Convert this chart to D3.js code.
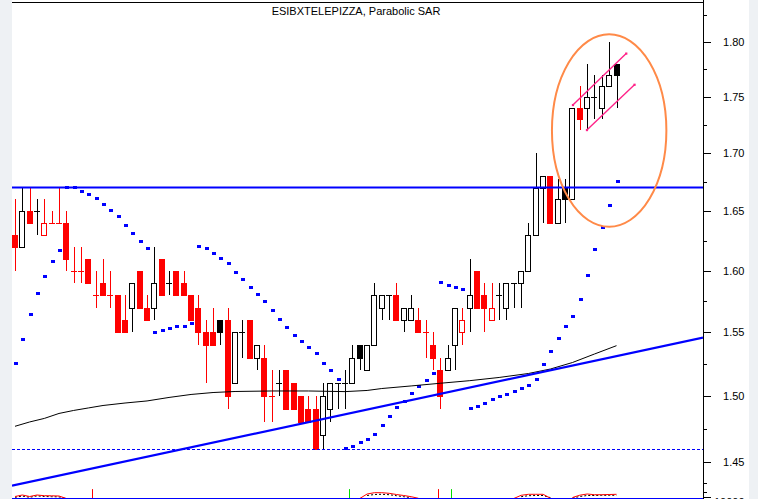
<!DOCTYPE html>
<html><head><meta charset="utf-8">
<script src="https://cdn.jsdelivr.net/npm/d3@7/dist/d3.min.js"></script>
<style>
html,body{margin:0;padding:0;background:#fff;overflow:hidden;}
svg{display:block;}
text{font-family:"Liberation Sans",Arial,sans-serif;}
</style></head><body>
<svg id="chart" width="758" height="499"></svg>
<script>
// ---------- DATA ----------
const title = "ESIBXTELEPIZZA, Parabolic SAR";
const opens  = [1.63,1.62,1.65,1.65,1.63,1.64,1.64,1.64,1.60,1.60,1.61,1.58,1.59,1.58,1.58,1.56,1.57,1.60,1.57,1.57,
                1.61,1.59,1.60,1.59,1.58,1.57,1.55,1.55,1.56,1.56,1.51,1.55,1.56,1.53,1.53,1.50,1.51,1.52,1.51,1.50,
                1.49,1.49,1.47,1.49,1.51,1.51,1.51,1.54,1.52,1.54,1.57,1.58,1.58,1.56,1.56,1.56,1.55,1.54,1.52,1.52,
                1.54,1.55,1.57,1.60,1.58,1.56,1.58,1.57,1.59,1.59,1.60,1.63,1.67,1.68,1.64,1.67,1.66,1.74,1.74,1.75,
                1.74,1.76,1.78];
const highs  = [1.66,1.67,1.67,1.66,1.66,1.65,1.67,1.65,1.62,1.62,1.61,1.60,1.61,1.60,1.58,1.58,1.59,1.60,1.58,1.62,
                1.61,1.60,1.60,1.60,1.58,1.58,1.56,1.57,1.56,1.57,1.55,1.56,1.56,1.54,1.54,1.52,1.52,1.52,1.51,1.50,
                1.50,1.50,1.51,1.51,1.51,1.52,1.54,1.54,1.54,1.59,1.58,1.58,1.59,1.57,1.58,1.57,1.56,1.55,1.53,1.54,
                1.57,1.57,1.61,1.60,1.59,1.59,1.59,1.59,1.59,1.60,1.64,1.70,1.68,1.68,1.677,1.677,1.74,1.76,1.78,1.77,
                1.77,1.80,1.78];
const lows   = [1.60,1.62,1.64,1.63,1.63,1.64,1.64,1.60,1.59,1.59,1.59,1.57,1.58,1.57,1.55,1.55,1.55,1.57,1.56,1.56,
                1.58,1.58,1.58,1.58,1.56,1.54,1.51,1.54,1.54,1.49,1.51,1.53,1.53,1.52,1.48,1.48,1.50,1.49,1.49,1.48,
                1.48,1.46,1.46,1.48,1.49,1.49,1.51,1.52,1.52,1.54,1.56,1.56,1.56,1.55,1.56,1.55,1.53,1.52,1.49,1.52,
                1.52,1.54,1.55,1.57,1.55,1.56,1.56,1.56,1.57,1.57,1.60,1.63,1.64,1.64,1.64,1.64,1.66,1.72,1.72,1.73,
                1.73,1.76,1.74];
const closes = [1.62,1.65,1.64,1.65,1.64,1.64,1.64,1.61,1.60,1.60,1.59,1.58,1.58,1.58,1.55,1.55,1.59,1.57,1.56,1.59,
                1.58,1.59,1.58,1.58,1.56,1.55,1.54,1.54,1.55,1.50,1.55,1.55,1.53,1.54,1.50,1.50,1.51,1.49,1.49,1.48,
                1.48,1.46,1.50,1.51,1.51,1.51,1.53,1.53,1.54,1.58,1.58,1.58,1.56,1.57,1.57,1.55,1.55,1.53,1.50,1.53,
                1.57,1.56,1.58,1.57,1.57,1.57,1.58,1.59,1.59,1.60,1.63,1.67,1.68,1.64,1.66,1.66,1.74,1.73,1.75,1.75,
                1.76,1.77,1.77];
const sarValues = [1.5256,1.5446,1.5646,1.5816,1.5961,1.6079,1.6176,1.6705,1.6705,1.6671,1.6643,1.6609,1.6560,1.6506,
                1.6458,1.6382,1.6312,1.6250,1.6186,1.5501,1.5517,1.5533,1.5548,1.5554,1.5572,1.6206,1.6189,1.6145,
                1.6103,1.6063,1.5988,1.5930,1.5867,1.5808,1.5757,1.5679,1.5605,1.5541,1.5478,1.5432,1.5382,1.5335,
                1.5262,1.5201,1.5131,1.4603,1.4618,1.4648,1.4671,1.4708,1.4777,1.4847,1.4914,1.4966,1.5022,1.5075,
                1.5124,1.5178,1.5906,1.5882,1.5865,1.5848,1.4907,1.4922,1.4945,1.4976,1.4999,1.5017,1.5040,1.5063,
                1.5084,1.5131,1.5248,1.5351,1.5454,1.5548,1.5630,1.5767,1.5963,1.6178,1.6367,1.6549,1.6755];
// long moving average (candle index -> value)
const maIndex  = [0,2,4,6,8,10,12,15,18,21,24,27,30,35,40,45,48,50,54,58,62,66,70,73,76,79,82];
const maValues = [1.4769,1.4802,1.4829,1.4867,1.4890,1.4909,1.4928,1.4947,1.4963,1.4990,1.5013,1.5028,1.5036,1.5040,
                  1.5040,1.5035,1.5044,1.5059,1.5079,1.5100,1.5120,1.5145,1.5176,1.5211,1.5262,1.5329,1.5395];
// support trend line anchors (candle index, value)
const trendIndex  = [0, 82];
const trendValues = [1.4329, 1.5312];
const resistanceLevel = 1.67;
const supportLevel = 1.46;
// channel lines (candle index, value)
const channelUpperIndex = [76.05, 83.32], channelUpperValues = [1.7426, 1.7894];
const channelLowerIndex = [77.96, 84.45], channelLowerValues = [1.7203, 1.7609];
// highlight ellipse bounds (candle index range, value range)
const ellipseIndex = [73.2, 88.8], ellipseValues = [1.6367, 1.8071];
// axis ticks
const majorTicks = [1.45,1.50,1.55,1.60,1.65,1.70,1.75,1.80];
const minorTicks = [1.475,1.525,1.575,1.625,1.675,1.725,1.775,1.825];
// lower indicator panel
const oscRed = [1.0,1.75,1.0,1.75,1.4,1.35,1.25,0, null,null,null,null,null,null,null,null,null,null,null,null,
                null,null,null,null,null,null,null,null,null,null,null,null,null,null,null,null,null,null,null,null,
                null,null,null,null,null,null,null,0,2.25,2.9,2.9,2.6,2.0,1.5,0.9,0.1,null,null,null,null,
                null,null,null,null,null,null,null,null,0,1.6,2.1,2.1,2.1,0.1,null,null,0.5,1.65,2.25,1.9,
                1.9,2.0,2.1];
const oscBlack = [0.6,1.2,0.6,1.3,1.0,0.9,0.8,0, null,null,null,null,null,null,null,null,null,null,null,null,
                null,null,null,null,null,null,null,null,null,null,null,null,null,null,null,null,null,null,null,null,
                null,null,null,null,null,null,null,null,1.5,2.0,2.1,1.9,1.4,0.9,0.4,null,null,null,null,null,
                null,null,null,null,null,null,null,null,null,0.9,1.4,1.5,1.5,0.4,null,null,0.2,1.0,1.5,1.5,
                1.6,1.6,1.6];
const sellSignals = [10.54, 57.64];
const buySignals  = [45.5, 59.5];
const lowerTickLabels = ["10000"];

// ---------- CHART ----------
const W = 758, H = 499;
const plotLeft = 12, axisX = 703, plotTop = 2.5, plotBottom = 499;
const svg = d3.select("#chart");

const x = d3.scaleLinear().domain([0, 82]).range([15, 616.5]);
const y = d3.scaleLog().domain([1.45, 1.80]).range([462, 42]);
const yo = d3.scaleLinear().domain([0, 10]).range([498.5, 478.5]);

// backgrounds
svg.append("rect").attr("x",0).attr("y",0).attr("width",W).attr("height",H).attr("fill","#fff");
svg.append("rect").attr("x",0).attr("y",0).attr("width",plotLeft).attr("height",H).attr("fill","#eef1f4");
svg.append("rect").attr("x",749).attr("y",0).attr("width",W-749).attr("height",H).attr("fill","#eef1f4");

svg.append("defs").append("clipPath").attr("id","plotclip")
  .append("rect").attr("x",plotLeft).attr("y",plotTop).attr("width",axisX-plotLeft).attr("height",plotBottom-plotTop);

const g = svg.append("g").attr("clip-path","url(#plotclip)");

// title
svg.append("text").attr("x",356).attr("y",15).attr("text-anchor","middle")
  .attr("font-size","11px").attr("fill","#000").text(title);

// candles
const candles = opens.map((o,i)=>({i, o, h:highs[i], l:lows[i], c:closes[i]}));
let prevColor = "red";
candles.forEach((d,i)=>{
  const pc = i===0 ? d.o : closes[i-1];
  if (d.c > pc) d.color = "black";
  else if (d.c < pc) d.color = "red";
  else d.color = prevColor;
  prevColor = d.color;
});
const colorMap = {black:"#000000", red:"#ff0000"};
const cg = g.append("g").attr("shape-rendering","crispEdges");
const bodyW = 6;
candles.forEach(d=>{
  const cx = Math.round(x(d.i)) + 0.5;
  const col = colorMap[d.color];
  const top = Math.max(d.o,d.c), bot = Math.min(d.o,d.c);
  cg.append("line").attr("x1",cx).attr("x2",cx).attr("y1",y(d.h)).attr("y2",y(d.l))
    .attr("stroke",col).attr("stroke-width",1);
  if (d.o === d.c) {
    cg.append("line").attr("x1",cx-3.5).attr("x2",cx+2.5).attr("y1",Math.round(y(d.c))+0.5).attr("y2",Math.round(y(d.c))+0.5)
      .attr("stroke",col).attr("stroke-width",1);
  } else if (d.c > d.o) {
    // hollow body
    cg.append("rect").attr("x",cx-3).attr("y",Math.round(y(top))+0.5)
      .attr("width",bodyW-1).attr("height",Math.round(y(bot))-Math.round(y(top)))
      .attr("fill","#fff").attr("stroke",col).attr("stroke-width",1);
  } else {
    cg.append("rect").attr("x",cx-3.5).attr("y",Math.round(y(top)))
      .attr("width",bodyW).attr("height",Math.round(y(bot))-Math.round(y(top))+1)
      .attr("fill",col);
  }
});

// SAR dots
g.append("g").attr("shape-rendering","crispEdges").selectAll("rect").data(sarValues).join("rect")
  .attr("x",(v,i)=>Math.round(x(i))-1.5).attr("y",v=>Math.round(y(v))-1.5)
  .attr("width",4).attr("height",3).attr("fill","#0000ff");

// horizontal resistance & support lines
g.append("line").attr("x1",plotLeft).attr("x2",axisX).attr("y1",y(resistanceLevel)).attr("y2",y(resistanceLevel))
  .attr("stroke","#0000ff").attr("stroke-width",2);
g.append("line").attr("x1",plotLeft).attr("x2",axisX).attr("y1",Math.round(y(supportLevel))+0.5).attr("y2",Math.round(y(supportLevel))+0.5)
  .attr("stroke","#0000ff").attr("stroke-width",1).attr("stroke-dasharray","3,2");

// moving average
const maLine = d3.line().x(d=>x(d[0])).y(d=>y(d[1]));
g.append("path").datum(maIndex.map((k,j)=>[k, maValues[j]]))
  .attr("d",maLine).attr("fill","none").attr("stroke","#000").attr("stroke-width",1);

// trend line extended to plot edges (straight in screen space)
{
  const x1 = x(trendIndex[0]), y1 = y(trendValues[0]);
  const x2 = x(trendIndex[1]), y2 = y(trendValues[1]);
  const m = (y2-y1)/(x2-x1);
  g.append("line").attr("x1",plotLeft).attr("y1",y1+m*(plotLeft-x1))
    .attr("x2",axisX).attr("y2",y1+m*(axisX-x1))
    .attr("stroke","#0000ff").attr("stroke-width",2.2);
}

// channel lines
[[channelUpperIndex,channelUpperValues],[channelLowerIndex,channelLowerValues]].forEach(([ix,vs])=>{
  const pts = ix.map((k,j)=>[x(k), y(vs[j])]);
  g.append("line").attr("x1",pts[0][0]).attr("y1",pts[0][1]).attr("x2",pts[1][0]).attr("y2",pts[1][1])
    .attr("stroke","#ff2288").attr("stroke-width",1.4);
  pts.forEach(p=>g.append("rect").attr("x",p[0]-1).attr("y",p[1]-1).attr("width",2.2).attr("height",2.2).attr("fill","#ff2288"));
});

// highlight ellipse
{
  const ex1 = x(ellipseIndex[0]), ex2 = x(ellipseIndex[1]);
  const ey1 = y(ellipseValues[1]), ey2 = y(ellipseValues[0]);
  g.append("ellipse").attr("cx",(ex1+ex2)/2).attr("cy",(ey1+ey2)/2)
    .attr("rx",(ex2-ex1)/2).attr("ry",(ey2-ey1)/2)
    .attr("fill","none").attr("stroke","#ff8a48").attr("stroke-width",2);
}

// lower indicator panel
const oscLine = d3.line().defined(v=>v!==null).x((v,i)=>x(i)).y(v=>yo(v));
g.append("path").datum(oscBlack).attr("d",oscLine).attr("fill","none")
  .attr("stroke","#000").attr("stroke-width",1).attr("stroke-dasharray","2,2");
g.append("path").datum(oscRed).attr("d",oscLine).attr("fill","none")
  .attr("stroke","#ff0000").attr("stroke-width",1);
sellSignals.forEach(k=>g.append("line").attr("x1",Math.round(x(k))+0.5).attr("x2",Math.round(x(k))+0.5)
  .attr("y1",yo(4.7)).attr("y2",yo(0)).attr("stroke","#ff0000").attr("stroke-width",1));
buySignals.forEach(k=>g.append("line").attr("x1",Math.round(x(k))+0.5).attr("x2",Math.round(x(k))+0.5)
  .attr("y1",yo(4.7)).attr("y2",yo(0)).attr("stroke","#00dd00").attr("stroke-width",1));
g.append("line").attr("x1",plotLeft).attr("x2",axisX).attr("y1",498.5).attr("y2",498.5)
  .attr("stroke","#0000ff").attr("stroke-width",1.2);

// frame: top line and right axis line
svg.append("line").attr("x1",plotLeft).attr("x2",axisX).attr("y1",plotTop).attr("y2",plotTop)
  .attr("stroke","#000").attr("stroke-width",1).attr("shape-rendering","crispEdges");
svg.append("line").attr("x1",axisX+0.5).attr("x2",axisX+0.5).attr("y1",0).attr("y2",H)
  .attr("stroke","#000").attr("stroke-width",1).attr("shape-rendering","crispEdges");

// right axis
const axisG = svg.append("g").attr("transform",`translate(${axisX+0.5},0)`).attr("shape-rendering","crispEdges");
axisG.call(d3.axisRight(y).tickValues(majorTicks).tickSize(7).tickPadding(13).tickFormat(d3.format(".2f")));
axisG.select(".domain").remove();
axisG.selectAll("text").attr("text-anchor","end").attr("x",41).attr("font-size","11px")
  .attr("font-family",'"Liberation Sans",Arial,sans-serif').attr("fill","#000");
const minorG = svg.append("g").attr("transform",`translate(${axisX+0.5},0)`).attr("shape-rendering","crispEdges");
minorG.call(d3.axisRight(y).tickValues(minorTicks).tickSize(3).tickFormat(""));
minorG.select(".domain").remove();

// lower panel axis
const lowG = svg.append("g").attr("transform",`translate(${axisX+0.5},0)`).attr("shape-rendering","crispEdges");
lowG.call(d3.axisRight(yo).tickValues([1]).tickSize(7).tickFormat(()=>lowerTickLabels[0]));
lowG.select(".domain").remove();
lowG.selectAll("text").attr("text-anchor","end").attr("x",41).attr("y",5).attr("font-size","11px")
  .attr("font-family",'"Liberation Sans",Arial,sans-serif').attr("fill","#000");
const lowMinor = svg.append("g").attr("transform",`translate(${axisX+0.5},0)`).attr("shape-rendering","crispEdges");
lowMinor.call(d3.axisRight(yo).tickValues([3.4, 7.6]).tickSize(3).tickFormat(""));
lowMinor.select(".domain").remove();
</script>
</body></html>
